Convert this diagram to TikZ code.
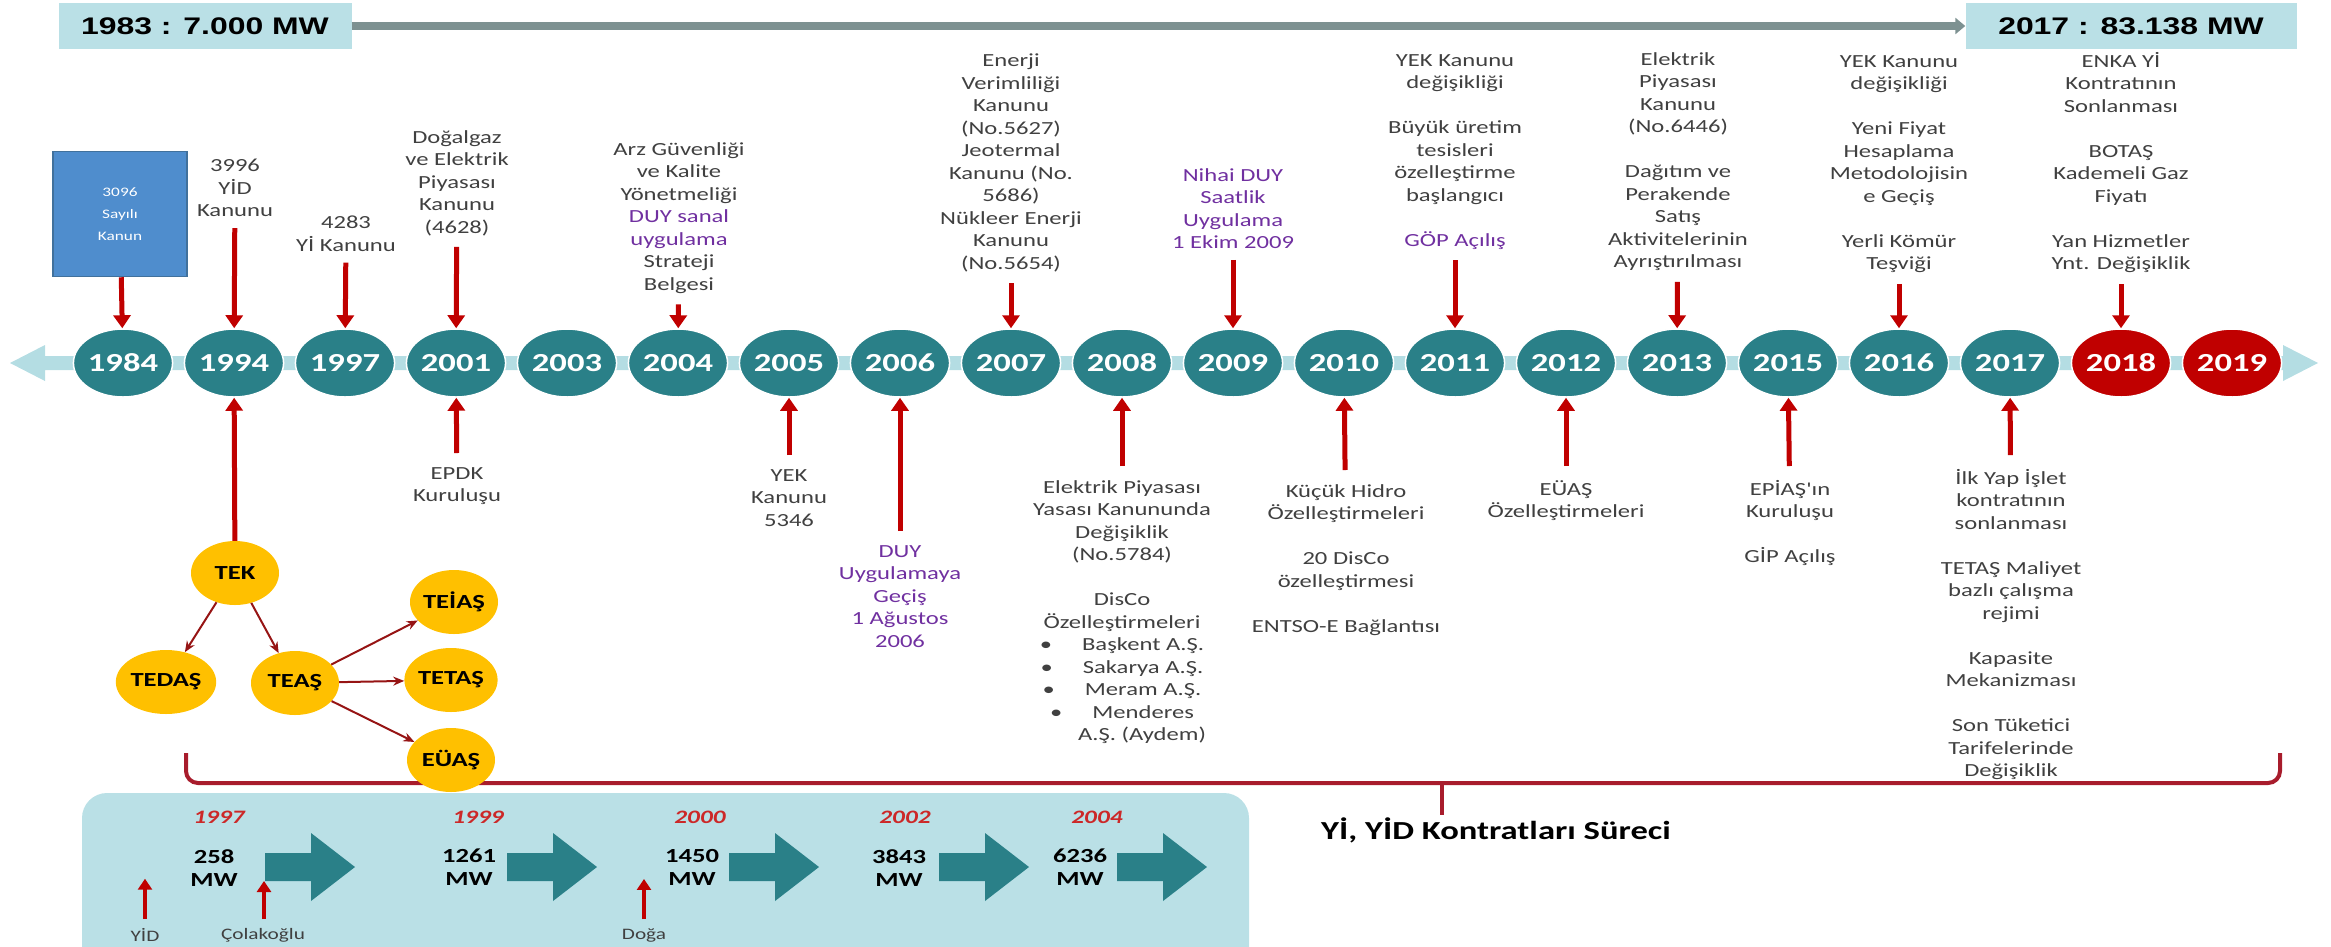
\documentclass[tikz,border=0pt]{standalone}
\usepackage{fontspec}
\setmainfont{Carlito}
\newfontfamily\widefont[FakeStretch=1.33]{Carlito}
\newfontfamily\widehead[FakeStretch=1.33]{Liberation Sans}
\usepackage{xcolor}
\usetikzlibrary{arrows.meta,shapes.geometric,positioning}

\definecolor{yearteal}{RGB}{42,128,136}
\definecolor{yearred}{RGB}{192,0,0}
\definecolor{bandblue}{RGB}{180,221,227}
\definecolor{boxblue}{RGB}{186,224,230}
\definecolor{lawblue}{RGB}{79,141,205}
\definecolor{evred}{RGB}{192,0,0}
\definecolor{evgrey}{RGB}{64,64,64}
\definecolor{evpurple}{RGB}{112,48,160}
\definecolor{orggold}{RGB}{255,192,0}
\definecolor{orgline}{RGB}{150,20,20}
\definecolor{bracered}{RGB}{168,28,44}
\definecolor{mwred}{RGB}{204,40,40}
\definecolor{barline}{RGB}{125,145,145}

\tikzset{
  yearnode/.style={ellipse,fill=yearteal,draw=white,line width=1.5pt,minimum width=86pt,minimum height=68pt,inner sep=0pt,text=white,font=\widefont\bfseries\fontsize{26}{26}\selectfont},
  evtxt/.style={align=center,inner sep=0pt,text=evgrey,font=\widefont\fontsize{18.5}{22.5}\selectfont},
  downarr/.style={evred,line width=5pt,-{Triangle[width=17pt,length=13pt]},shorten <=11pt},
  uparr/.style={evred,line width=5pt,-{Triangle[width=17pt,length=13pt]},shorten <=14pt},
  smallarr/.style={evred,line width=4pt,-{Triangle[width=14pt,length=11pt]},shorten <=9pt},
  orgnode/.style={ellipse,fill=orggold,minimum width=88pt,minimum height=64pt,inner sep=0pt,font=\widefont\bfseries\fontsize{20}{20}\selectfont},
  orgarr/.style={orgline,line width=2pt,-{Stealth[length=11pt,width=9pt]}},
  mwtxt/.style={align=center,inner sep=0pt,font=\widefont\bfseries\fontsize{20}{23}\selectfont},
  mwyear/.style={inner sep=0pt,text=mwred,font=\widefont\bfseries\itshape\fontsize{19}{19}\selectfont},
  firmtxt/.style={inner sep=0pt,text=evgrey,font=\widefont\fontsize{16}{16}\selectfont},
  totalbox/.style={fill=boxblue,minimum height=46pt,inner sep=0pt,font=\widehead\bfseries\fontsize{24}{24}\selectfont}
}

\begin{document}
\begin{tikzpicture}[x=1pt,y=-1pt]
\useasboundingbox (0,0) rectangle (2331,946);

% kurulu guc
\node[totalbox,minimum width=293pt] (cap83) at (205,26) {1983 : 7.000 MW};
\node[totalbox,minimum width=331pt] (cap17) at (2131,26) {2017 : 83.138 MW};
\draw[barline,line width=8pt,-{Triangle[width=16pt,length=10pt]}] (cap83) -- (cap17);

% zaman cizgisi
\fill[bandblue] (10,363) -- (45,345) -- (45,356) -- (2283,356) -- (2283,345) -- (2318,363)
  -- (2283,381) -- (2283,370) -- (45,370) -- (45,381) -- cycle;
\foreach \yr [count=\i from 0] in {1984,1994,1997,2001,2003,2004,2005,2006,2007,2008,2009,2010,2011,2012,2013,2015,2016,2017}
  \node[yearnode] (y\yr) at (123+\i*111,363) {\yr};
\foreach \yr [count=\i from 18] in {2018,2019}
  \node[yearnode,fill=yearred] (y\yr) at (123+\i*111,363) {\yr};

% ust olaylar
\node[rectangle,fill=lawblue,draw={rgb,255:red,65;green,113;blue,156},line width=1.5pt,minimum width=134pt,minimum height=125pt,align=center,text=white,font=\widefont\fontsize{13}{22}\selectfont] (law) at (120,214) {3096\\Sayılı\\Kanun};
\node[evtxt,anchor=north] (t1994) at (235,159) {3996\\YİD\\Kanunu};
\node[evtxt,anchor=north] (t1997) at (346,216) {4283\\Yİ Kanunu};
\node[evtxt,anchor=north] (t2001) at (457,130) {Doğalgaz\\ve Elektrik\\Piyasası\\Kanunu\\(4628)};
\node[evtxt,anchor=north] (t2004) at (679,142) {Arz Güvenliği\\ve Kalite\\Yönetmeliği\\\textcolor{evpurple}{DUY sanal}\\\textcolor{evpurple}{uygulama}\\Strateji\\Belgesi};
\node[evtxt,anchor=north] (t2007) at (1011,54) {Enerji\\Verimliliği\\Kanunu\\(No.5627)\\Jeotermal\\Kanunu (No.\\5686)\\Nükleer Enerji\\Kanunu\\(No.5654)};
\node[evtxt,anchor=north,text=evpurple] (t2009) at (1233,168) {Nihai DUY\\Saatlik\\Uygulama\\1 Ekim 2009};
\node[evtxt,anchor=north] (t2011) at (1455,54) {YEK Kanunu\\değişikliği\\[22.5pt]Büyük üretim\\tesisleri\\özelleştirme\\başlangıcı\\[22.5pt]\textcolor{evpurple}{GÖP Açılış}};
\node[evtxt,anchor=north] (t2013) at (1678,52) {Elektrik\\Piyasası\\Kanunu\\(No.6446)\\[22.5pt]Dağıtım ve\\Perakende\\Satış\\Aktivitelerinin\\Ayrıştırılması};
\node[evtxt,anchor=north] (t2016) at (1899,55) {YEK Kanunu\\değişikliği\\[22.5pt]Yeni Fiyat\\Hesaplama\\Metodolojisin\\e Geçiş\\[22.5pt]Yerli Kömür\\Teşviği};
\node[evtxt,anchor=north] (t2018) at (2121,52) {ENKA Yİ\\Kontratının\\Sonlanması\\[22.5pt]BOTAŞ\\Kademeli Gaz\\Fiyatı\\[22.5pt]Yan Hizmetler\\Ynt. Değişiklik};

\draw[downarr,shorten <=0pt] (law) -- (y1984);
\foreach \yr in {1994,1997,2001,2004,2007,2009,2011,2013,2016,2018}
  \draw[downarr] (t\yr) -- (y\yr);

% alt olaylar
\node[evtxt,anchor=north] (b2001) at (457,467) {EPDK\\Kuruluşu};
\node[evtxt,anchor=north] (b2005) at (789,469) {YEK\\Kanunu\\5346};
\node[evtxt,anchor=north,text=evpurple] (b2006) at (900,545) {DUY\\Uygulamaya\\Geçiş\\1 Ağustos\\2006};
\node[evtxt,anchor=north] (b2008) at (1122,480) {Elektrik Piyasası\\Yasası Kanununda\\Değişiklik\\(No.5784)\\[22.5pt]DisCo\\Özelleştirmeleri\\\textbullet\hspace{30pt}Başkent A.Ş.\\\textbullet\hspace{30pt}Sakarya A.Ş.\\\textbullet\hspace{30pt}Meram A.Ş.\\\textbullet\hspace{30pt}Menderes\\\hspace*{40pt}A.Ş. (Aydem)};
\node[evtxt,anchor=north] (b2010) at (1346,484) {Küçük Hidro\\Özelleştirmeleri\\[22.5pt]20 DisCo\\özelleştirmesi\\[22.5pt]ENTSO-E Bağlantısı};
\node[evtxt,anchor=north] (b2012) at (1566,480) {EÜAŞ\\Özelleştirmeleri};
\node[evtxt,anchor=north] (b2015) at (1790,480) {EPİAŞ'ın\\Kuruluşu\\[22.5pt]GİP Açılış};
\node[evtxt,anchor=north] (b2017) at (2011,469) {İlk Yap İşlet\\kontratının\\sonlanması\\[22.5pt]TETAŞ Maliyet\\bazlı çalışma\\rejimi\\[22.5pt]Kapasite\\Mekanizması\\[22.5pt]Son Tüketici\\Tarifelerinde\\Değişiklik};

\foreach \yr in {2001,2005,2006,2008,2010,2012,2015,2017}
  \draw[uparr] (b\yr) -- (y\yr);

% YI, YID sureci
\draw[bracered,line width=4pt,rounded corners=12pt] (186,753) -- (186,783) -- (2280,783) -- (2280,753);
\draw[bracered,line width=4pt] (1442,783) -- (1442,815);
\node[anchor=west,inner sep=0pt,font=\widefont\bfseries\fontsize{26}{26}\selectfont] (surec) at (1321,830) {Yİ, YİD Kontratları Süreci};

% TEK ayrismasi
\node[orgnode] (tek) at (235,573) {TEK};
\node[orgnode] (tedas) at (166,682) {TEDAŞ};
\node[orgnode] (teas) at (295,683) {TEAŞ};
\node[orgnode] (teias) at (454,602) {TEİAŞ};
\node[orgnode] (tetas) at (451,680) {TETAŞ};
\node[orgnode] (euas) at (451,760) {EÜAŞ};
\draw[uparr,shorten <=0pt] (tek) -- (y1994);
\draw[orgarr] (tek) -- (tedas);
\draw[orgarr] (tek) -- (teas);
\draw[orgarr] (teas) -- (teias);
\draw[orgarr] (teas) -- (tetas);
\draw[orgarr] (teas) -- (euas);

% kontrat kutusu
\fill[boxblue,rounded corners=25pt] (82,980) -- (82,793) -- (1249,793) -- (1249,980) -- cycle;
\foreach \x in {265,507,729,939,1117}
  \fill[yearteal] (\x,853) -- ++(46,0) -- ++(0,-20) -- ++(44,34) -- ++(-44,34) -- ++(0,-20) -- ++(-46,0) -- cycle;
\node[mwyear] (k1997) at (219,817) {1997};
\node[mwyear] (k1999) at (478,817) {1999};
\node[mwyear] (k2000) at (700,817) {2000};
\node[mwyear] (k2002) at (905,817) {2002};
\node[mwyear] (k2004) at (1097,817) {2004};
\node[mwtxt,anchor=north] (mw1) at (214,849) {258\\MW};
\node[mwtxt,anchor=north] (mw2) at (469,849) {1261\\MW};
\node[mwtxt,anchor=north] (mw3) at (692,849) {1450\\MW};
\node[mwtxt,anchor=north] (mw4) at (899,849) {3843\\MW};
\node[mwtxt,anchor=north] (mw5) at (1080,849) {6236\\MW};
\node[firmtxt,anchor=north] (fyid) at (145,928) {YİD};
\node[firmtxt,anchor=north] (fcol) at (263,928) {Çolakoğlu};
\node[firmtxt,anchor=north] (fdoga) at (644,928) {Doğa};
\draw[smallarr] (fyid) -- ++(0,-56);
\draw[smallarr] (fcol.north -| 264,0) -- ++(0,-47);
\draw[smallarr] (fdoga) -- ++(0,-56);
\end{tikzpicture}
\end{document}
